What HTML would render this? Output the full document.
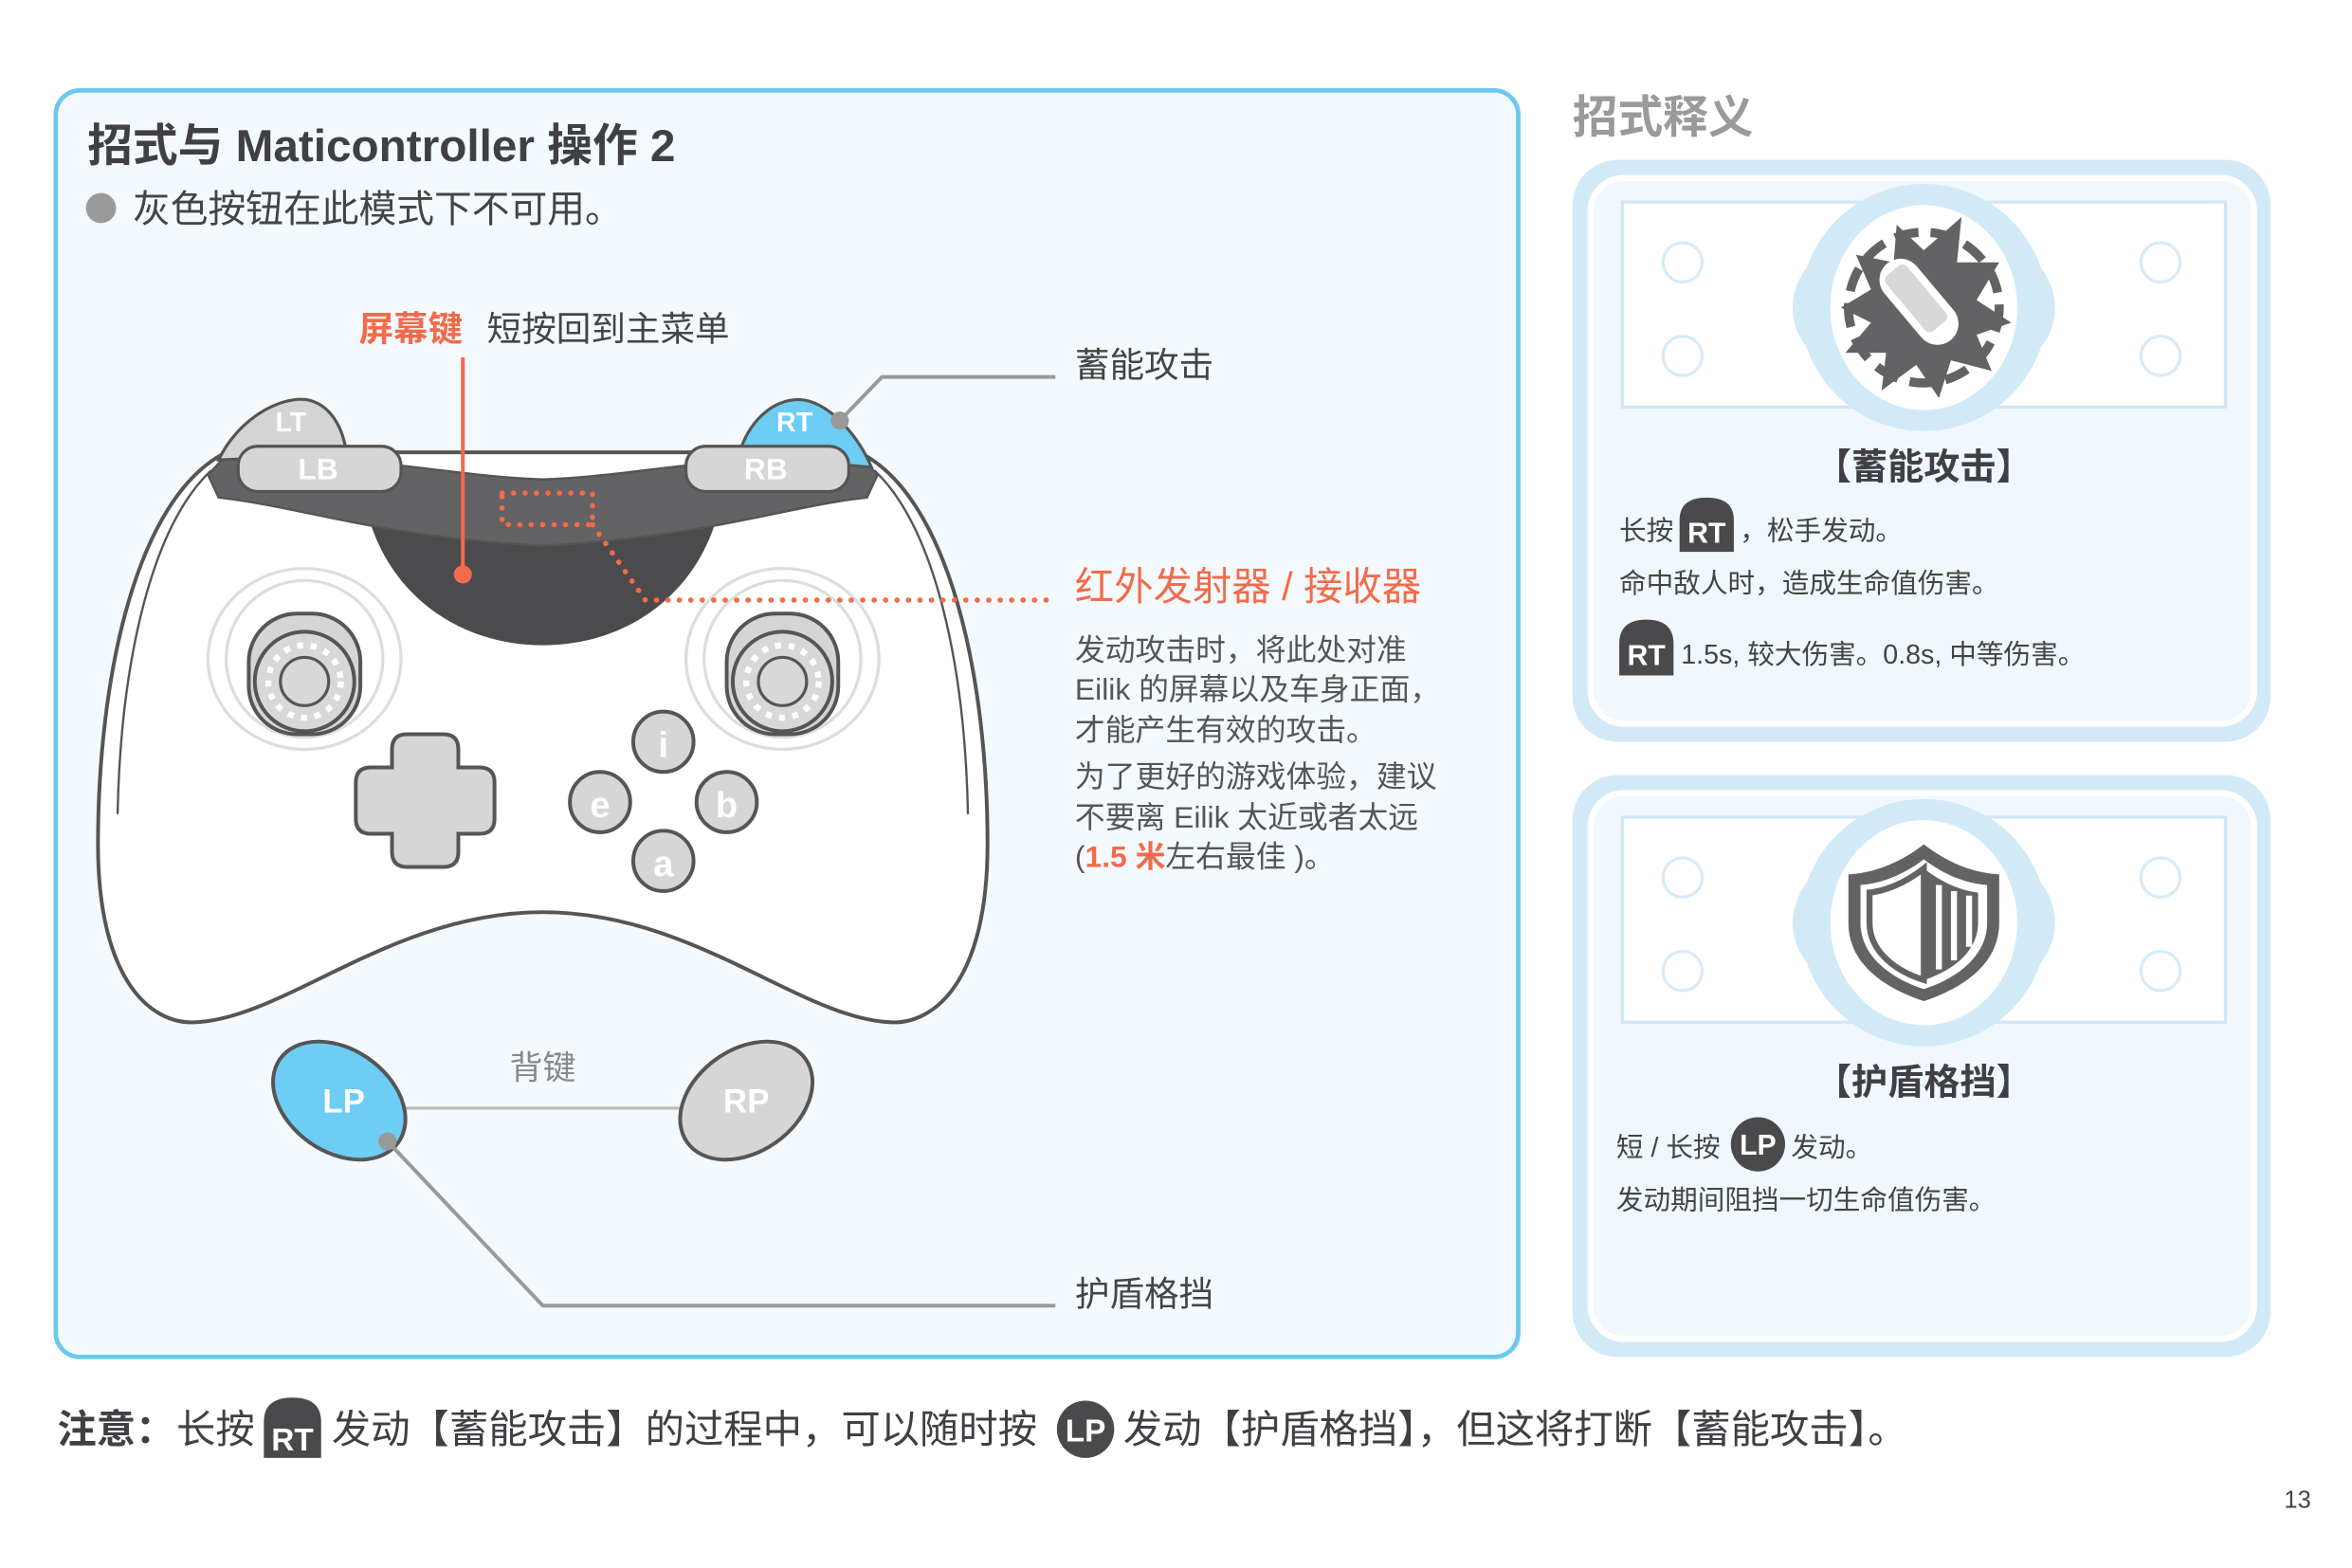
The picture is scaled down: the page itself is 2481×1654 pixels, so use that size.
<!DOCTYPE html>
<html><head><meta charset="utf-8"><style>
html,body{margin:0;padding:0;background:#fff}
svg{display:block}
text{font-family:"Liberation Sans","Noto Sans CJK SC",sans-serif}
</style></head><body>
<svg width="2481" height="1654" viewBox="0 0 1560 1040" xmlns="http://www.w3.org/2000/svg">
<defs>
<g id="frame">
  <rect x="-200" y="-70" width="400" height="136" fill="#fff" stroke="#cfe6f4" stroke-width="2"/>
  <circle cx="-160" cy="-30" r="13" fill="none" stroke="#d6ebf7" stroke-width="2"/>
  <circle cx="-160" cy="32" r="13" fill="none" stroke="#d6ebf7" stroke-width="2"/>
  <circle cx="157" cy="-30" r="13" fill="none" stroke="#d6ebf7" stroke-width="2"/>
  <circle cx="157" cy="32" r="13" fill="none" stroke="#d6ebf7" stroke-width="2"/>
  <circle cx="0" cy="0" r="82" fill="#d2eaf8"/>
  <circle cx="-45" cy="0" r="42" fill="#d2eaf8"/>
  <circle cx="45" cy="0" r="42" fill="#d2eaf8"/>
  <ellipse cx="0" cy="0" rx="62" ry="68" fill="#fff"/>
</g>
</defs>

<!-- main panel -->
<rect x="37" y="60" width="970" height="840" rx="16" fill="#f3f9fd" stroke="#6cc8ef" stroke-width="3"/>
<text x="58" y="107" font-size="30" font-weight="bold" fill="#3f3f44">招式与 Maticontroller 操作 2</text>
<circle cx="67" cy="138" r="10" fill="#9a9a9a"/>
<text x="88" y="147" font-size="25" fill="#444">灰色按钮在此模式下不可用。</text>

<text x="238" y="226" font-size="23" font-weight="bold" fill="#f26b4a">屏幕键</text>
<text x="323" y="226" font-size="23" fill="#444">短按回到主菜单</text>
<text x="713" y="250" font-size="23" fill="#444">蓄能攻击</text>

<!-- controller body -->
<path d="M150,300 C90,330 65,450 65,560 C65,650 100,680 130,678 C190,675 260,605 360,605 C460,605 530,675 590,678 C620,680 655,650 655,560 C655,450 630,330 570,300 Z" fill="#fff" stroke="#555" stroke-width="2.5"/>
<path d="M140,312 C100,350 80,440 78,540" fill="none" stroke="#555" stroke-width="1.5"/>
<path d="M580,312 C620,350 640,440 642,540" fill="none" stroke="#555" stroke-width="1.5"/>
<path d="M245,345 C262,400 310,428 360,428 C410,428 458,400 475,345 Z" fill="#4b4a4c"/>
<path d="M138,315 L150,302 C250,302 300,316 360,318 C420,316 470,302 570,302 L582,315 L575,330 C520,336 470,356 360,362 C250,356 200,336 145,330 Z" fill="#636265" stroke="#555" stroke-width="1.5"/>
<!-- triggers -->
<path d="M145,305 C158,278 185,263 203,265 C220,268 228,285 230,302 Z" fill="#d4d4d4" stroke="#555" stroke-width="2"/>
<text x="193" y="286" font-size="18" font-weight="bold" fill="#fff" text-anchor="middle">LT</text>
<path d="M490,302 C496,280 512,265 530,265 C550,266 570,290 578,310 Z" fill="#6dcdf4" stroke="#555" stroke-width="2"/>
<text x="527" y="286" font-size="18" font-weight="bold" fill="#fff" text-anchor="middle">RT</text>
<rect x="158" y="296" width="108" height="30" rx="13" fill="#d6d6d6" stroke="#555" stroke-width="2"/>
<text x="211" y="318" font-size="20" font-weight="bold" fill="#fff" text-anchor="middle">LB</text>
<rect x="455" y="296" width="108" height="30" rx="13" fill="#d6d6d6" stroke="#555" stroke-width="2"/>
<text x="508" y="318" font-size="20" font-weight="bold" fill="#fff" text-anchor="middle">RB</text>

<!-- sticks -->
<g id="stickL">
<ellipse cx="202" cy="437" rx="64" ry="60" fill="none" stroke="#ddd" stroke-width="2"/>
<ellipse cx="202" cy="437" rx="52" ry="52" fill="none" stroke="#ddd" stroke-width="2"/>
<rect x="165" y="407" width="74" height="80" rx="32" fill="#d5d5d5" stroke="#555" stroke-width="2.5"/>
<circle cx="202" cy="452" r="33" fill="#d8d8d8" stroke="#555" stroke-width="2.5"/>
<circle cx="202" cy="452" r="24" fill="none" stroke="#fff" stroke-width="4" stroke-dasharray="4 5"/>
<circle cx="202" cy="452" r="16" fill="#d8d8d8" stroke="#555" stroke-width="2"/>
</g>
<use href="#stickL" x="317"/>

<!-- dpad -->
<path d="M260,497 Q260,487 270,487 L294,487 Q304,487 304,497 L304,509 L318,509 Q328,509 328,519 L328,543 Q328,553 318,553 L304,553 L304,565 Q304,575 294,575 L270,575 Q260,575 260,565 L260,553 L246,553 Q236,553 236,543 L236,519 Q236,509 246,509 L260,509 Z" fill="#d6d6d6" stroke="#555" stroke-width="2.5"/>
<!-- face buttons -->
<g font-size="24" font-weight="bold" fill="#fff" text-anchor="middle">
<circle cx="440" cy="492" r="20" fill="#d6d6d6" stroke="#555" stroke-width="2.5"/><text x="440" y="502">i</text>
<circle cx="398" cy="532" r="20" fill="#d6d6d6" stroke="#555" stroke-width="2.5"/><text x="398" y="542">e</text>
<circle cx="482" cy="532" r="20" fill="#d6d6d6" stroke="#555" stroke-width="2.5"/><text x="482" y="542">b</text>
<circle cx="440" cy="571" r="20" fill="#d6d6d6" stroke="#555" stroke-width="2.5"/><text x="440" y="581">a</text>
</g>

<!-- IR -->
<rect x="333" y="327" width="60" height="21" fill="none" stroke="#f26b4a" stroke-width="3.5" stroke-dasharray="0.1 7.5" stroke-linecap="round"/>
<path d="M393,348 L428,398 L700,398" fill="none" stroke="#f26b4a" stroke-width="3.5" stroke-dasharray="0.1 7.5" stroke-linecap="round"/>
<!-- screen key line -->
<line x1="307" y1="237" x2="307" y2="380" stroke="#f26b4a" stroke-width="2.5"/>
<circle cx="307" cy="381" r="6" fill="#f26b4a"/>
<!-- RT line -->
<path d="M557,279 L585,250 L700,250" fill="none" stroke="#999" stroke-width="2.5"/>
<circle cx="557" cy="279" r="6" fill="#999"/>

<text x="713" y="398" font-size="26" fill="#f26b4a">红外发射器 / 接收器</text>
<g font-size="20" fill="#555">
<text x="713" y="438">发动攻击时，将此处对准</text>
<text x="713" y="464">Eilik 的屏幕以及车身正面，</text>
<text x="713" y="491">才能产生有效的攻击。</text>
<text x="713" y="522">为了更好的游戏体验，建议</text>
<text x="713" y="549">不要离 Eilik 太近或者太远</text>
<text x="713" y="575">(<tspan fill="#f26b4a" font-weight="bold">1.5 米</tspan>左右最佳 )。</text>
</g>

<!-- back paddles -->
<line x1="265" y1="735" x2="455" y2="735" stroke="#bbb" stroke-width="2"/>
<text x="360" y="716" font-size="22" fill="#888" text-anchor="middle">背键</text>
<ellipse cx="225" cy="730" rx="48" ry="34" transform="rotate(35 225 730)" fill="#6dcdf4" stroke="#555" stroke-width="2.5"/>
<text x="228" y="738" font-size="22" font-weight="bold" fill="#fff" text-anchor="middle">LP</text>
<ellipse cx="495" cy="730" rx="48" ry="34" transform="rotate(-35 495 730)" fill="#d6d6d6" stroke="#555" stroke-width="2.5"/>
<text x="495" y="738" font-size="22" font-weight="bold" fill="#fff" text-anchor="middle">RP</text>
<path d="M257,757 L360,866 L700,866" fill="none" stroke="#999" stroke-width="2.5"/>
<circle cx="257" cy="757" r="6" fill="#999"/>
<text x="713" y="866" font-size="23" fill="#444">护盾格挡</text>

<!-- right side -->
<text x="1043" y="88" font-size="30" font-weight="bold" fill="#9a9a9a">招式释义</text>

<rect x="1043" y="106" width="463" height="386" rx="30" fill="#d2eaf7"/>
<rect x="1055" y="118" width="440" height="362" rx="22" fill="#f0f8fd" stroke="#fff" stroke-width="4"/>
<use href="#frame" transform="translate(1276,204)"/>
<g transform="translate(1276,204)">
  <circle r="50" fill="none" stroke="#636265" stroke-width="6" stroke-dasharray="16 8"/>
  <path d="M-55,0 L-35,-12 L-45,-35 L-20,-30 L-18,-55 L0,-38 L25,-60 L22,-30 L50,-30 L35,-5 L58,10 L35,18 L45,42 L18,35 L10,60 L-5,38 L-28,55 L-25,30 L-52,30 L-35,10 Z" fill="#636265"/>
  <rect x="-14" y="-38" width="28" height="66" rx="14" transform="rotate(-40)" fill="#fff"/>
  <rect x="-9" y="-32" width="18" height="48" rx="4" transform="rotate(-40)" fill="#d8d8d8"/>
</g>
<text x="1276" y="318" font-size="24" font-weight="bold" fill="#3f3f44" text-anchor="middle">【蓄能攻击】</text>
<g font-size="18" fill="#444">
<text x="1074" y="358">长按</text>
<path d="M1114,366 L1114,345 Q1114,330 1132,330 Q1150,330 1150,345 L1150,366 Z" fill="#4a4a4c"/>
<text x="1132" y="360" font-size="19" font-weight="bold" fill="#fff" text-anchor="middle">RT</text>
<text x="1154" y="358">，松手发动。</text>
<text x="1074" y="393">命中敌人时，造成生命值伤害。</text>
<path d="M1074,448 L1074,427 Q1074,411 1092,411 Q1110,411 1110,427 L1110,448 Z" fill="#4a4a4c"/>
<text x="1092" y="441" font-size="19" font-weight="bold" fill="#fff" text-anchor="middle">RT</text>
<text x="1115" y="440">1.5s, 较大伤害。0.8s, 中等伤害。</text>
</g>

<rect x="1043" y="514" width="463" height="386" rx="30" fill="#d2eaf7"/>
<rect x="1055" y="526" width="440" height="362" rx="22" fill="#f0f8fd" stroke="#fff" stroke-width="4"/>
<use href="#frame" transform="translate(1276,612)"/>
<g transform="translate(1276,612)">
  <path d="M0,-52 C-18,-38 -35,-33 -50,-32 L-50,0 C-50,25 -30,42 0,52 C30,42 50,25 50,0 L50,-32 C35,-33 18,-38 0,-52 Z" fill="#636265"/>
  <path d="M0,-42 C-16,-30 -30,-26 -42,-25 L-42,0 C-42,20 -25,36 0,44 C25,36 42,20 42,0 L42,-25 C30,-26 16,-30 0,-42 Z" fill="#fff"/>
  <path d="M0,-36 C-14,-25 -27,-21 -36,-20 L-36,0 C-36,17 -22,31 0,38 Z" fill="#fff" stroke="#636265" stroke-width="4"/>
  <path d="M0,-36 L0,38 C22,31 36,17 36,0 L36,-20 C27,-21 14,-25 0,-36 Z" fill="#636265"/>
  <rect x="8" y="-25" width="4" height="56" fill="#fff"/>
  <rect x="18" y="-21" width="4" height="46" fill="#fff"/>
  <rect x="28" y="-18" width="4" height="34" fill="#fff"/>
</g>
<text x="1276" y="726" font-size="24" font-weight="bold" fill="#3f3f44" text-anchor="middle">【护盾格挡】</text>
<g font-size="18" fill="#444">
<text x="1072" y="767">短 / 长按</text>
<circle cx="1166" cy="759" r="18" fill="#4a4a4c"/>
<text x="1166" y="766" font-size="19" font-weight="bold" fill="#fff" text-anchor="middle">LP</text>
<text x="1188" y="767">发动。</text>
<text x="1072" y="802">发动期间阻挡一切生命值伤害。</text>
</g>

<!-- bottom note -->
<g font-size="26" fill="#3f3f44">
<text x="38" y="957" font-weight="bold">注意：</text>
<text x="117" y="957">长按</text>
<path d="M175,967 L175,943 Q175,927 194,927 Q213,927 213,943 L213,967 Z" fill="#4a4a4c"/>
<text x="194" y="962" font-size="21" font-weight="bold" fill="#fff" text-anchor="middle">RT</text>
<text x="220" y="957">发动【蓄能攻击】的过程中，可以随时按</text>
<circle cx="720" cy="948" r="19" fill="#4a4a4c"/>
<text x="720" y="956" font-size="21" font-weight="bold" fill="#fff" text-anchor="middle">LP</text>
<text x="745" y="957">发动【护盾格挡】，但这将打断【蓄能攻击】。</text>
</g>
<text x="1515" y="1000" font-size="16" fill="#444">13</text>
</svg>
</body></html>
